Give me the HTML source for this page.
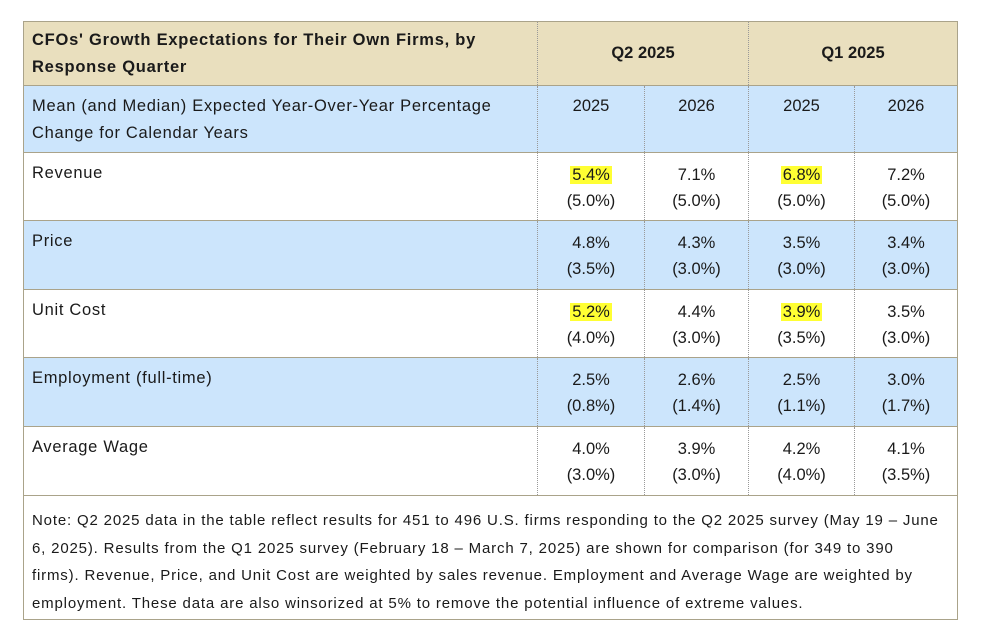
<!DOCTYPE html>
<html><head><meta charset="utf-8"><style>
body{margin:0;width:982px;height:637px;background:#fff;font-family:"Liberation Sans",sans-serif;color:#1a1a1a;position:relative;overflow:hidden}
.t{position:absolute;left:23px;top:21px;width:935px;height:599px;border:1px solid #aaa38a;box-sizing:border-box}
.row{position:absolute;left:0;width:933px;border-bottom:1px solid #aaa38a;box-sizing:border-box}
.c{position:absolute;top:0;bottom:0;box-sizing:border-box;border-left:1px dotted #999}
.lbl{position:absolute;left:8px;font-size:16.5px;line-height:27px;letter-spacing:0.7px}
.v{position:absolute;width:100%;text-align:center;font-size:16.5px;line-height:26px;top:9px}
.hl{background:#ffff33;padding:0 2px}
</style></head><body>
<div class="t">
<div class="row" style="top:0;height:64px;background:#e9dfbe">
<div class="lbl" style="top:5px;font-weight:bold;letter-spacing:0.75px">CFOs' Growth Expectations for Their Own Firms, by<br>Response Quarter</div>
<div class="c" style="left:513px;width:211px"><div class="v" style="top:18px;font-weight:bold">Q2 2025</div></div>
<div class="c" style="left:724px;width:209px"><div class="v" style="top:18px;font-weight:bold">Q1 2025</div></div>
</div>
<div id="body"></div>
<div class="row" style="top:474px;height:125px;border-bottom:none">
<div class="lbl" style="top:11px;font-size:15px;line-height:27.5px;width:925px;letter-spacing:0.83px;white-space:nowrap">Note: Q2 2025 data in the table reflect results for 451 to 496 U.S. firms responding to the Q2 2025 survey (May 19 – June<br>6, 2025). Results from the Q1 2025 survey (February 18 – March 7, 2025) are shown for comparison (for 349 to 390<br>firms). Revenue, Price, and Unit Cost are weighted by sales revenue. Employment and Average Wage are weighted by<br>employment. These data are also winsorized at 5% to remove the potential influence of extreme values.</div>
</div>
</div>
<script>
const rowLabels=["Mean (and Median) Expected Year-Over-Year Percentage<br>Change for Calendar Years","Revenue","Price","Unit Cost","Employment (full-time)","Average Wage"];
const means=[null,["5.4%","7.1%","6.8%","7.2%"],["4.8%","4.3%","3.5%","3.4%"],["5.2%","4.4%","3.9%","3.5%"],["2.5%","2.6%","2.5%","3.0%"],["4.0%","3.9%","4.2%","4.1%"]];
const medians=[null,["(5.0%)","(5.0%)","(5.0%)","(5.0%)"],["(3.5%)","(3.0%)","(3.0%)","(3.0%)"],["(4.0%)","(3.0%)","(3.5%)","(3.0%)"],["(0.8%)","(1.4%)","(1.1%)","(1.7%)"],["(3.0%)","(3.0%)","(4.0%)","(3.5%)"]];
const highlights=[[1,0],[1,2],[3,0],[3,2]];
const years=["2025","2026","2025","2026"];
const tops=[64,131,199,268,336,405,474];
const colL=[513,620,724,830,933];
const body=document.getElementById('body');
rowLabels.forEach((lab,i)=>{
 const r=document.createElement('div');
 r.className='row';
 
 
 r.style.top=tops[i]+'px';r.style.height=(tops[i+1]-tops[i])+'px';
 r.style.background=(i%2===0)?'#cce5fc':'#fff';
 let h='<div class="lbl" style="top:7px">'+lab+'</div>';
 for(let j=0;j<4;j++){
  let txt;
  if(i===0)txt=years[j];
  else{
   let m=means[i][j];
   if(highlights.some(p=>p[0]===i&&p[1]===j))m='<span class="hl">'+m+'</span>';
   txt=m+'<br>'+medians[i][j];
  }
  h+='<div class="c" style="left:'+colL[j]+'px;width:'+(colL[j+1]-colL[j])+'px"><div class="v" style="top:'+(i===0?7:9)+'px">'+txt+'</div></div>';
 }
 r.innerHTML=h;
 body.appendChild(r);
});
</script>
</body></html>
